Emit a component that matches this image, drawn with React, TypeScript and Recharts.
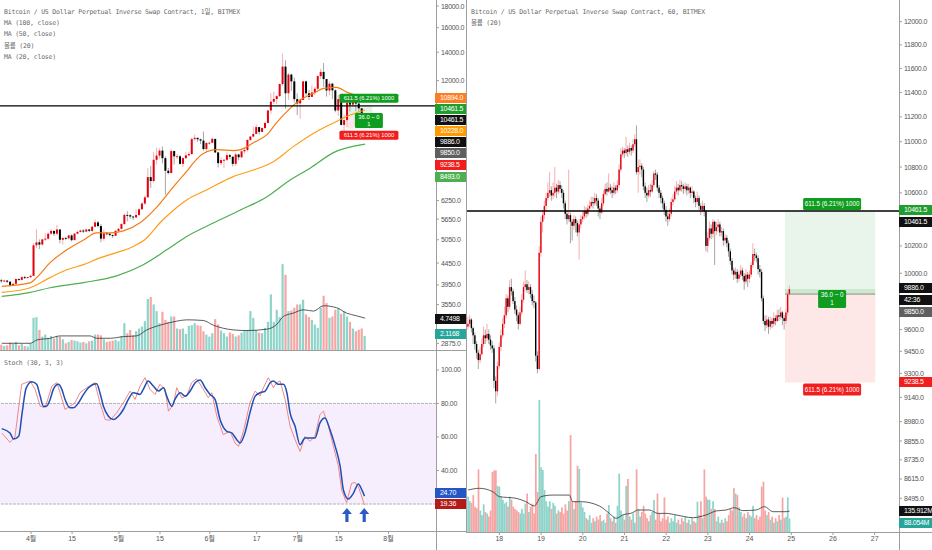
import React from "react";
import {
  ComposedChart,
  Bar,
  Line,
  XAxis,
  YAxis,
  ReferenceLine,
  ReferenceArea,
  ReferenceDot,
} from "recharts";

// ---------- daily chart (left), day 0 = Mar 22 ----------
const dailyFirstOpen = 4050;
const dailyClose = [
  4030, 4045, 4020, 3950, 3975, 4080, 4060, 4120, 4110, 4120,
  4150, 4900, 4980, 4920, 5060, 5080, 5220, 5300, 5220, 5340,
  5050, 5100, 5090, 5170, 5040, 5220, 5270, 5310, 5280, 5340,
  5300, 5420, 5550, 5440, 5080, 5230, 5220, 5180, 5160, 5300,
  5360, 5500, 5780, 5770, 5730, 5700, 5780, 5960, 6150, 6360,
  7100, 6950, 7800, 7980, 8200, 7870, 7350, 7260, 8180, 7950,
  7950, 7630, 7870, 7990, 8050, 8730, 8790, 8720, 8660, 8270,
  8550, 8560, 8740, 8120, 7660, 7790, 7800, 8000, 7930, 7630,
  8030, 7910, 8170, 8230, 8690, 8850, 8980, 9320, 9080, 9270,
  9530, 10200, 10700, 10860, 11030, 11780, 12950, 11200, 12400, 11950,
  10850, 10600, 10800, 11950, 11200, 10980, 11250, 11480, 12300, 12580,
  12100, 11370, 11800, 11380, 10200, 10850, 9430, 9680, 10640, 10530,
  10760, 10590, 10320, 9850, 9886,
];
const dailyHigh = [
  4080, 4060, 4050, 4030, 3990, 4090, 4090, 4140, 4150, 4130,
  4180, 4960, 5350, 5060, 5080, 5230, 5250, 5350, 5300, 5470,
  5350, 5110, 5130, 5190, 5200, 5240, 5300, 5340, 5350, 5360,
  5350, 5460, 5640, 5600, 5500, 5340, 5260, 5240, 5200, 5330,
  5380, 5530, 5830, 5900, 5800, 5750, 5960, 6000, 6190, 6420,
  7450, 7550, 8150, 8330, 8300, 8380, 7950, 7460, 8260, 8200,
  8050, 8000, 7920, 8150, 8150, 8800, 8950, 8800, 8750, 9100,
  8580, 8620, 8820, 8740, 8130, 7900, 7850, 8120, 8050, 7960,
  8100, 8050, 8220, 8330, 8720, 8880, 9350, 9450, 9330, 9300,
  9600, 10230, 11200, 11300, 11100, 11800, 13900, 13400, 12500, 12450,
  12200, 11200, 10900, 11980, 12000, 11400, 11700, 11600, 12350, 12800,
  13200, 12100, 11950, 11850, 11450, 11100, 11000, 9980, 10780, 10780,
  11100, 10800, 10650, 10320, 9950,
];
const dailyLow = [
  4000, 4010, 3990, 3920, 3930, 3960, 4040, 4050, 4080, 4090,
  4100, 4140, 4830, 4800, 4900, 5020, 5050, 5190, 5150, 5180,
  4950, 4920, 5040, 5060, 5000, 5040, 5210, 5260, 5240, 5270,
  5260, 5260, 5400, 5400, 4980, 5020, 5170, 5150, 5100, 5150,
  5280, 5340, 5480, 5580, 5660, 5620, 5700, 5740, 5950, 6100,
  6350, 6700, 6900, 7600, 7850, 7650, 6450, 7200, 7250, 7600,
  7850, 7600, 7500, 7830, 7950, 8000, 8650, 8600, 8500, 8200,
  8080, 8470, 8540, 8090, 7480, 7580, 7450, 7750, 7830, 7520,
  7540, 7780, 7860, 8060, 8160, 8640, 8830, 8970, 8950, 9050,
  9240, 9520, 10000, 10550, 10550, 10980, 11650, 10300, 10800, 11350,
  10650, 9950, 9750, 10800, 11050, 10800, 10980, 11100, 11400, 12100,
  11600, 11000, 11100, 10850, 10100, 9900, 9400, 9100, 9300, 10150,
  10400, 10150, 10100, 9800, 9550,
];
const dailyVolume = [
  0.8, 0.6, 0.7, 1.1, 0.9, 1.2, 0.7, 0.9, 0.6, 0.5,
  1.0, 4.8, 4.9, 3.0, 2.0, 2.3, 1.8, 2.1, 1.7, 2.1,
  2.0, 1.6, 1.0, 1.2, 1.5, 1.4, 1.3, 1.1, 1.2, 1.0,
  1.3, 1.4, 2.3, 2.3, 2.2, 1.6, 1.2, 1.3, 1.4, 1.5,
  1.3, 2.1, 4.0, 2.5, 3.0, 2.2, 2.8, 3.2, 3.5, 4.3,
  7.6, 7.9, 6.8, 5.8, 4.0, 5.7, 4.5, 4.2, 5.0, 5.0,
  3.2, 3.1, 3.2, 2.4, 3.6, 3.7, 4.0, 3.7, 3.6, 2.8,
  2.3, 2.0, 2.5, 4.6, 3.8, 2.9, 2.5, 2.0, 2.6, 2.4,
  2.0, 2.2, 2.6, 2.9, 3.0, 5.8, 4.8, 3.0, 2.6, 2.5,
  3.3, 4.2, 8.3, 4.2, 6.0, 4.9, 12.8, 11.2, 5.8, 5.9,
  6.3, 6.8, 6.8, 7.5, 5.3, 4.9, 4.5, 3.8, 3.3, 6.3,
  8.1, 7.0, 4.8, 5.0, 6.0, 6.2, 5.4, 5.8, 5.0, 4.2,
  3.2, 2.8, 3.0, 3.2, 2.1,
];

// moving averages: [day, value]
const ma20Daily = [
  [0, 3920], [9.7, 3995], [11.9, 4110], [16.5, 4460], [22.2, 4780], [27.9, 5045],
  [32.4, 5240], [36.9, 5240], [41.5, 5300], [47.2, 5540], [52.9, 6030], [56.3, 6440],
  [59.7, 6880], [63.1, 7320], [65.4, 7670], [68.8, 8070], [73.4, 8240], [79.1, 8200],
  [82.5, 8290], [85.9, 8560], [90.4, 8930], [93.8, 9550], [97.3, 10140], [101.8, 10800],
  [106.4, 11200], [109.8, 11500], [114.3, 11560], [117.7, 11270], [124, 10894],
];
const ma50Daily = [
  [0, 3795], [9.7, 3890], [16.5, 4110], [22.2, 4290], [27.9, 4410], [33.5, 4575],
  [39.2, 4710], [44.9, 4870], [49.5, 5100], [54, 5540], [58.6, 5930], [63.1, 6270],
  [69.9, 6620], [79, 7120], [85.9, 7380], [92.7, 7720], [99.5, 8380], [107.5, 9100],
  [113.2, 9530], [118.9, 9950], [124, 10228],
];
const ma100Daily = [
  [0, 3710], [9.7, 3795], [16.5, 3890], [27.9, 4000], [39.2, 4150], [48.3, 4410],
  [56.3, 4780], [63.1, 5140], [72.2, 5530], [81.3, 5930], [90.4, 6370], [98.4, 6990],
  [105.2, 7450], [113.2, 8110], [124, 8493],
];
const volMaDaily = [
  [0, 1.0], [9.7, 1.0], [12, 1.5], [16.5, 1.75], [19.9, 2.1], [30.1, 2.1], [32.4, 1.75],
  [37, 1.75], [41.5, 2.0], [46, 2.1], [49.5, 3.0], [54, 3.7], [59.7, 4.3], [63.1, 4.5],
  [68.8, 4.4], [72.2, 3.7], [79, 3.0], [83.6, 2.9], [90.4, 3.1], [93.8, 3.8], [96.1, 5.0],
  [99.5, 5.5], [103, 6.0], [106.4, 5.8], [109.8, 6.6], [114.3, 6.3], [117.7, 5.5],
  [121.1, 5.1], [124, 4.75],
];

// stochastic (30, 3, 3): [day, value]
const stochK = [
  [0, 62.4], [2.8, 56.8], [4.5, 60], [6.8, 91.4], [9.7, 93.4], [11.4, 88.4], [13.1, 78.4],
  [14.8, 77.4], [17.1, 90.4], [18.8, 92.4], [19.9, 86.4], [21.6, 76.4], [23.3, 78.4],
  [25, 80.4], [26.7, 86.4], [29, 89.4], [31.8, 92.4], [33.5, 80.4], [35.3, 70.4], [37, 70],
  [39.2, 74.4], [41.5, 80.4], [43.8, 87.4], [45.5, 82.4], [47.2, 90.4], [48.9, 95.4],
  [50.6, 88.4], [52.3, 85.4], [54, 91.4], [55.7, 88.4], [56.9, 75.4], [58.6, 79.4],
  [59.7, 89.4], [61.4, 83.4], [63.1, 84.4], [64.8, 92.4], [66.5, 94.8], [68.8, 88.4],
  [70.5, 83.4], [71.7, 86.4], [73.4, 72.4], [75.6, 61.4], [77.9, 63.4], [79.6, 56.4],
  [80.8, 54.4], [82.5, 63.4], [84.7, 80.4], [86.5, 87.4], [88.2, 84.4], [89.3, 89.4],
  [91, 95.4], [92.7, 89.4], [93.8, 92.4], [95, 93.4], [96.7, 82.4], [98.4, 66.4],
  [100.1, 58.4], [101.8, 51.4], [103.5, 60.4], [105.2, 57.4], [106.9, 60.4], [108.6, 73.4],
  [109.8, 75.4], [111.5, 66.4], [113.2, 54.4], [114.9, 42.4], [116, 28.4], [117.7, 20.8],
  [119.4, 32.4], [120.6, 32.8], [121.7, 30.4], [123.8, 19.36],
];
const stochD = [
  [0, 65], [2.8, 62.4], [4, 58.8], [5.8, 60.5], [7, 75], [8.3, 89], [10.2, 93], [11.9, 91.4],
  [13.1, 84.4], [14.2, 78.4], [15.3, 78.4], [16.5, 82.4], [17.6, 88.4], [19.3, 91.4],
  [20.5, 88.4], [21.6, 82.4], [23.3, 77.4], [24.4, 77.4], [26.2, 80.4], [27.9, 85.4],
  [29.6, 89.4], [32.4, 91.8], [33.5, 86.4], [34.7, 78.4], [36.4, 72.4], [38.1, 70.4],
  [39.8, 72.4], [41.5, 76.4], [43.2, 82.4], [44.9, 86.4], [47.2, 85.4], [48.3, 88.4],
  [50, 93.4], [51.7, 90.4], [53.5, 87.4], [55.2, 89.4], [56.3, 84.4], [58, 78.4],
  [59.1, 82.4], [60.9, 86.4], [62.6, 84.4], [64.3, 87.4], [66, 92.4], [67.7, 94],
  [69.4, 89.4], [71.1, 85.4], [72.8, 82.4], [74.5, 70.4], [76.8, 63.4], [78.5, 62.4],
  [80.2, 58.4], [81.3, 56.4], [83, 62.4], [84.7, 74.4], [86.5, 84.4], [88.2, 86.4],
  [89.9, 87.4], [91.6, 92.4], [92.7, 93.4], [94.4, 91.4], [96.1, 91.4], [97.3, 86.4],
  [98.4, 74.4], [100.1, 66.4], [101.8, 55.4], [103.5, 59.4], [105.2, 59.4], [106.9, 59.4],
  [108.6, 68.4], [110.3, 71.4], [112, 64.4], [113.8, 54.4], [115.5, 42.4], [116.6, 28.4],
  [118.3, 23], [120, 26.4], [121.7, 32], [122.9, 28.4], [123.8, 24.7],
];
const stochArrowDays = [117.8, 123.7];

const dailyTickDays = [10, 24, 40, 54, 71, 87, 101, 115, 132];
const dailyTickLabels = ["4월", "15", "5월", "15", "6월", "17", "7월", "15", "8월"];
const leftPriceTicks = [18000, 16000, 14000, 12000, 6250, 5650, 5050, 4450, 3950, 3550, 2875];
const stochTicks = [100, 80, 60, 40];

// ---------- hourly chart (right), hour 0 = Jul 18 00:00 ----------
const hourStart = -18;
const hourlyFirstOpen = 9620;
const hourlyClose = [
  9640, 9670, 9610, 9560, 9500, 9440, 9390, 9430, 9500, 9560,
  9540, 9570, 9530, 9490, 9470, 9250, 9180, 9350, 9480, 9560,
  9640, 9700, 9820, 9760, 9900, 9870, 9800, 9740, 9700, 9640,
  9720, 9810, 9900, 9920, 9880, 9900, 9850, 9800, 9790, 9420,
  9330, 10150, 10380, 10430, 10500, 10560, 10600, 10620, 10580, 10600,
  10640, 10610, 10660, 10630, 10600, 10520, 10440, 10400, 10430, 10380,
  10350, 10400, 10370, 10300, 10360, 10400, 10420, 10460, 10440, 10480,
  10500, 10530, 10520, 10560, 10540, 10480, 10450, 10520, 10590, 10630,
  10610, 10640, 10620, 10600, 10640, 10620, 10660, 10780, 10900, 10930,
  10910, 10940, 10920, 10950, 10930, 10980, 11020, 10760, 10800, 10810,
  10780, 10650, 10600, 10580, 10620, 10610, 10660, 10750, 10740, 10640,
  10600, 10560, 10520, 10470, 10420, 10400, 10440, 10530, 10550, 10610,
  10640, 10620, 10660, 10650, 10630, 10650, 10620, 10640, 10600, 10610,
  10560, 10530, 10560, 10500, 10470, 10500, 10460, 10200, 10260, 10330,
  10290, 10380, 10310, 10340, 10360, 10300, 10310, 10240, 10260, 10220,
  10160, 10090, 10020, 9990, 10010, 9960, 9990, 10020, 9980, 9940,
  9990, 9960, 9990, 10060, 10140, 10130, 10110, 10030, 10010, 9820,
  9660, 9630, 9670, 9620, 9660, 9640, 9680, 9660, 9700, 9690,
  9720, 9680, 9660, 9720, 9850, 9886,
];
const hourlyHigh = [
  9690, 9700, 9680, 9620, 9580, 9520, 9460, 9480, 9540, 9620,
  9600, 9640, 9600, 9560, 9520, 9490, 9280, 9380, 9510, 9600,
  9680, 9760, 9850, 9840, 9950, 9960, 9890, 9830, 9770, 9720,
  9760, 9850, 9940, 10020, 9950, 9940, 9920, 9880, 9840, 9800,
  9450, 10200, 10420, 10470, 10540, 10600, 10680, 10760, 10650, 10680,
  10800, 10670, 10700, 10690, 10660, 10620, 10540, 10470, 10780, 10450,
  10400, 10430, 10420, 10390, 10400, 10430, 10460, 10500, 10490, 10510,
  10540, 10570, 10570, 10600, 10590, 10560, 10500, 10560, 10620, 10670,
  10680, 10750, 10670, 10650, 10680, 10660, 10700, 10820, 10950, 10960,
  10950, 11040, 10970, 10990, 10970, 11020, 11060, 11130, 10860, 10860,
  10830, 10800, 10680, 10640, 10660, 10670, 10700, 10770, 10780, 10760,
  10660, 10620, 10580, 10540, 10500, 10460, 10480, 10560, 10590, 10650,
  10690, 10670, 10700, 10690, 10670, 10680, 10670, 10670, 10650, 10650,
  10620, 10580, 10610, 10580, 10520, 10540, 10520, 10470, 10300, 10380,
  10360, 10400, 10390, 10380, 10400, 10380, 10340, 10330, 10290, 10280,
  10240, 10180, 10110, 10040, 10040, 10030, 10020, 10060, 10040, 10000,
  10030, 10010, 10020, 10080, 10220, 10180, 10150, 10130, 10060, 10030,
  9840, 9700, 9700, 9690, 9690, 9680, 9720, 9700, 9740, 9740,
  9760, 9730, 9700, 9740, 9870, 9910,
];
const hourlyLow = [
  9600, 9620, 9580, 9500, 9460, 9400, 9330, 9370, 9420, 9480,
  9500, 9520, 9500, 9460, 9440, 9200, 9100, 9150, 9330, 9450,
  9540, 9610, 9680, 9720, 9740, 9840, 9780, 9710, 9660, 9600,
  9630, 9700, 9790, 9870, 9860, 9850, 9820, 9770, 9750, 9380,
  9300, 9320, 10120, 10300, 10400, 10460, 10540, 10570, 10540, 10550,
  10570, 10560, 10590, 10600, 10560, 10480, 10400, 10360, 10380, 10220,
  10240, 10320, 10300, 10270, 10100, 10330, 10380, 10400, 10410, 10420,
  10460, 10490, 10480, 10500, 10500, 10420, 10400, 10440, 10500, 10580,
  10580, 10600, 10590, 10560, 10580, 10590, 10600, 10640, 10760, 10880,
  10870, 10890, 10880, 10900, 10890, 10910, 10960, 10740, 10600, 10740,
  10720, 10620, 10560, 10530, 10560, 10570, 10600, 10640, 10700, 10610,
  10560, 10520, 10480, 10430, 10380, 10350, 10380, 10420, 10500, 10540,
  10590, 10580, 10610, 10610, 10590, 10600, 10580, 10590, 10560, 10570,
  10520, 10490, 10510, 10470, 10430, 10450, 10420, 10160, 10150, 10240,
  10250, 10260, 10060, 10280, 10300, 10270, 10270, 10200, 10210, 10190,
  10120, 10060, 9990, 9950, 9960, 9930, 9940, 9970, 9950, 9880,
  9920, 9900, 9930, 9970, 10040, 10090, 10080, 9990, 9970, 9800,
  9640, 9590, 9610, 9570, 9600, 9610, 9620, 9630, 9650, 9660,
  9670, 9630, 9600, 9640, 9700, 9840,
];
const hourlyVolume = [
  230, 200, 190, 240, 165, 155, 407, 140, 110, 180,
  130, 120, 100, 140, 390, 400, 400, 300, 295, 230,
  210, 185, 195, 165, 230, 210, 165, 150, 140, 130,
  120, 150, 120, 185, 250, 130, 165, 185, 120, 507,
  260, 858, 420, 403, 273, 200, 165, 200, 150, 190,
  170, 120, 140, 130, 160, 120, 180, 140, 200, 630,
  200, 150, 200, 430, 410, 190, 160, 130, 90, 80,
  110, 60, 90, 70, 100, 80, 110, 70, 80, 60,
  120, 175, 90, 70, 100, 60, 170, 380, 140, 110,
  80, 300, 345, 100, 80, 120, 60, 407, 150, 100,
  130, 170, 120, 90, 70, 110, 130, 208, 80, 250,
  120, 70, 90, 225, 80, 100, 60, 90, 70, 110,
  60, 80, 50, 90, 70, 100, 60, 80, 50, 90,
  70, 60, 197, 110, 200, 90, 407, 230, 210, 210,
  150, 200, 150, 70, 100, 60, 80, 60, 90, 70,
  110, 150, 140, 285, 250, 240, 160, 130, 100, 120,
  90, 130, 110, 100, 170, 90, 110, 80, 100, 295,
  327, 140, 110, 130, 80, 100, 60, 90, 70, 110,
  80, 223, 90, 100, 225, 88,
];
const volMaHourly = [
  [-18, 273], [-11.5, 284], [-3.8, 262], [0, 230], [9.6, 219], [15.3, 197], [20.1, 169],
  [24, 230], [30.7, 240], [40.3, 240], [42.2, 197], [47, 197], [57.6, 169], [63.3, 121],
  [67.2, 89], [71, 111], [76.8, 126], [79.6, 143], [86.4, 143], [91.2, 121], [96, 121],
  [101.7, 111], [111.3, 93], [119, 111], [124.8, 137], [130.5, 143], [135.3, 158],
  [140.1, 139], [147.8, 143], [152.6, 165], [157.4, 132], [165, 132], [167, 136],
];

const hourTickHours = [0, 24, 48, 72, 96, 120, 144, 168, 192, 216];
const hourTickLabels = ["18", "19", "20", "21", "22", "23", "24", "25", "26", "27"];
const rightPriceTicks = [
  12000, 11800, 11600, 11400, 11200, 11000, 10800, 10600, 10200, 10000,
  9600, 9450, 9300, 9140, 8980, 8855, 8735, 8615, 8495,
];

// long position tool
const targetPrice = 10461.5;
const entryPrice = 9850;
const stopPrice = 9238.5;
const lastPrice = 9886;
const targetLabel = "611.5 (6.21%) 1000";
const entryLabel = ["36.0 ~ 0", "1"];

// ---------- styles ----------
const UP = "#e3000f";
const DOWN = "#000000";
const WICK_UP = "#f29a9a";
const WICK_DOWN = "#8e8e8e";
const VOL_UP = "#8fd4ca";
const VOL_DOWN = "#f5a6a4";
const AXIS = "#9e9e9e";
const TEXT = "#555";
const MONO = "'DejaVu Sans Mono', 'Noto Sans CJK KR', monospace";
const SANS = "'Liberation Sans', 'Noto Sans CJK KR', sans-serif";

const dailyRows = dailyClose.map((c, i) => {
  const o = i === 0 ? dailyFirstOpen : dailyClose[i - 1];
  return { d: i, o, c, h: dailyHigh[i], l: dailyLow[i], range: [dailyLow[i], dailyHigh[i]], vol: dailyVolume[i], up: c >= o };
});
const hourlyRows = hourlyClose.map((c, i) => {
  const o = i === 0 ? hourlyFirstOpen : hourlyClose[i - 1];
  return { d: hourStart + i, o, c, h: hourlyHigh[i], l: hourlyLow[i], range: [hourlyLow[i], hourlyHigh[i]], vol: hourlyVolume[i], up: c >= o };
});
const pts = (arr: number[][]) => arr.map(([d, v]) => ({ d, v }));

const candleShape = (bodyW: number) => (p: any) => {
  const { x, y, width, height, payload } = p;
  if (!payload || x == null) return <g />;
  const top = Math.min(y, y + height);
  const bot = Math.max(y, y + height);
  const lh = Math.log(payload.h);
  const span = lh - Math.log(payload.l) || 1;
  const py = (v: number) => top + ((lh - Math.log(v)) / span) * (bot - top);
  const cx = x + width / 2;
  const up = payload.c >= payload.o;
  const yo = py(payload.o);
  const yc = py(payload.c);
  return (
    <g>
      <line x1={cx} x2={cx} y1={top} y2={bot} stroke={up ? WICK_UP : WICK_DOWN} strokeWidth={0.8} />
      <rect x={cx - bodyW / 2} y={Math.min(yo, yc)} width={bodyW} height={Math.max(Math.abs(yo - yc), 0.9)} fill={up ? UP : DOWN} />
    </g>
  );
};

const volShape = (barW: number) => (p: any) => {
  const { x, y, width, height, payload } = p;
  if (!payload || x == null) return <g />;
  const cx = x + width / 2;
  return <rect x={cx - barW / 2} y={y} width={barW} height={Math.max(height, 0)} fill={payload.up ? VOL_UP : VOL_DOWN} />;
};

const toolTag = (lines: string[], bg: string, w: number, dy: number, lh: number, fs: number) => (p: any) => {
  const { cx, cy } = p;
  const top = cy + dy;
  return (
    <g>
      <rect x={cx - w / 2} y={top} width={w} height={lines.length * lh + 2} rx={1.5} fill={bg} />
      {lines.map((t, i) => (
        <text key={i} x={cx} y={top + 1 + lh * (i + 0.5)} dy="0.35em" textAnchor="middle" fontSize={fs} fontFamily={SANS} fill="#fff">
          {t}
        </text>
      ))}
    </g>
  );
};

const arrowShape = (p: any) => {
  const { cx, cy } = p;
  const d = `M${cx} ${cy - 7} L${cx + 5} ${cy - 1} L${cx + 1.6} ${cy - 1} L${cx + 1.6} ${cy + 7} L${cx - 1.6} ${cy + 7} L${cx - 1.6} ${cy - 1} L${cx - 5} ${cy - 1} Z`;
  return <path d={d} fill="#2c5bc9" />;
};

const leftTags = [
  { text: "10894.0", bg: "#ff7d22", top: 93 },
  { text: "10461.5", bg: "#1f9d2e", top: 104 },
  { text: "10461.5", bg: "#111", top: 115 },
  { text: "10228.0", bg: "#ff9a00", top: 126 },
  { text: "9886.0", bg: "#111", top: 137 },
  { text: "9850.0", bg: "#5f5f5f", top: 148 },
  { text: "9238.5", bg: "#f21d1d", top: 159.5 },
  { text: "8493.0", bg: "#4caf50", top: 172 },
  { text: "4.7498", bg: "#111", top: 314 },
  { text: "2.1168", bg: "#26a69a", top: 329 },
  { text: "24.70", bg: "#2457c5", top: 488 },
  { text: "19.36", bg: "#b31b1b", top: 499 },
];
const rightTags = [
  { text: "10461.5", bg: "#1f9d2e", top: 205 },
  { text: "10461.5", bg: "#111", top: 217 },
  { text: "9886.0", bg: "#111", top: 283 },
  { text: "42:36", bg: "#111", top: 294.5 },
  { text: "9850.0", bg: "#5f5f5f", top: 307 },
  { text: "9238.5", bg: "#f21d1d", top: 377 },
  { text: "135.912M", bg: "#111", top: 506 },
  { text: "88.054M", bg: "#26a69a", top: 518 },
];

const Tag = ({ text, bg, top, left, width }: any) => (
  <div
    style={{
      position: "absolute", left, top, width, height: 10, background: bg, color: "#fff",
      fontFamily: SANS, fontSize: 7, lineHeight: "10px", paddingLeft: 5, boxSizing: "border-box",
      letterSpacing: -0.3, whiteSpace: "nowrap", overflow: "hidden",
    }}
  >
    {text}
  </div>
);

const Legend = ({ lines, left, top }: any) => (
  <div style={{ position: "absolute", left, top, fontFamily: MONO, fontSize: 6.5, lineHeight: "11.2px", color: "#6a6a6a", letterSpacing: -0.2, whiteSpace: "pre" }}>
    {lines.map((t: string, i: number) => <div key={i}>{t}</div>)}
  </div>
);

const hline = (left: number, top: number, width: number) => (
  <div style={{ position: "absolute", left, top, width, height: 1, background: AXIS }} />
);
const vline = (left: number, top: number, height: number) => (
  <div style={{ position: "absolute", left, top, width: 1, height, background: AXIS }} />
);

const yTick = { fontSize: 7, fill: TEXT, fontFamily: SANS, letterSpacing: -0.3 };
const xTick = { fontSize: 7, fill: TEXT, fontFamily: SANS };

export default function App() {
  return (
    <div style={{ position: "absolute", left: 0, top: 0, width: 932, height: 550, background: "#fff", overflow: "hidden" }}>
      {/* left: daily price pane */}
      <div style={{ position: "absolute", left: 0, top: 0 }}>
        <ComposedChart width={466} height={350} data={dailyRows} margin={{ top: 0, right: 0, bottom: 0, left: 0 }}>
          <XAxis xAxisId="p" dataKey="d" type="number" domain={[-0.6, 148.2]} allowDataOverflow hide />
          <XAxis xAxisId="v" dataKey="d" type="number" domain={[-0.6, 148.2]} allowDataOverflow hide />
          <XAxis xAxisId="m" dataKey="d" type="number" domain={[-0.6, 148.2]} allowDataOverflow hide />
          <YAxis
            yAxisId="price" orientation="right" width={30} scale="log" domain={[2773, 18600]} allowDataOverflow
            ticks={leftPriceTicks} interval={0} tick={yTick} tickSize={3} tickMargin={2}
            tickLine={{ stroke: AXIS }} axisLine={false} tickFormatter={(v: number) => v.toFixed(1)}
          />
          <YAxis yAxisId="vol" domain={[0, 52.2]} allowDataOverflow hide />
          <Bar xAxisId="v" yAxisId="vol" dataKey="vol" barSize={2} shape={volShape(2.2)} isAnimationActive={false} />
          <Line xAxisId="m" yAxisId="vol" data={pts(volMaDaily)} dataKey="v" type="monotone" stroke="#333" strokeWidth={0.8} dot={false} activeDot={false} isAnimationActive={false} />
          <ReferenceArea xAxisId="p" yAxisId="price" x1={118} x2={126.5} y1={entryPrice} y2={targetPrice} fill="#4caf50" fillOpacity={0.15} stroke="none" />
          <ReferenceArea xAxisId="p" yAxisId="price" x1={118} x2={126.5} y1={stopPrice} y2={entryPrice} fill="#f44336" fillOpacity={0.12} stroke="none" />
          <Bar xAxisId="p" yAxisId="price" dataKey="range" barSize={2} shape={candleShape(2)} isAnimationActive={false} />
          <Line xAxisId="m" yAxisId="price" data={pts(ma100Daily)} dataKey="v" type="monotone" stroke="#4caf50" strokeWidth={1.2} dot={false} activeDot={false} isAnimationActive={false} />
          <Line xAxisId="m" yAxisId="price" data={pts(ma50Daily)} dataKey="v" type="monotone" stroke="#ff9d1a" strokeWidth={1.2} dot={false} activeDot={false} isAnimationActive={false} />
          <Line xAxisId="m" yAxisId="price" data={pts(ma20Daily)} dataKey="v" type="monotone" stroke="#f57a14" strokeWidth={1.2} dot={false} activeDot={false} isAnimationActive={false} />
          <ReferenceLine xAxisId="p" yAxisId="price" y={targetPrice} stroke="#000" strokeWidth={1.4} />
          <ReferenceDot xAxisId="p" yAxisId="price" x={125.3} y={targetPrice} shape={toolTag([targetLabel], "#0f9d1f", 59, -12, 7, 5.8)} />
          <ReferenceDot xAxisId="p" yAxisId="price" x={125.3} y={entryPrice} shape={toolTag(entryLabel, "#0f9d1f", 28, -4, 6.5, 5.8)} />
          <ReferenceDot xAxisId="p" yAxisId="price" x={125.3} y={stopPrice} shape={toolTag([targetLabel], "#f21d1d", 59, 2, 7, 5.8)} />
        </ComposedChart>
      </div>

      {/* left: stochastic pane */}
      <div style={{ position: "absolute", left: 0, top: 350 }}>
        <ComposedChart width={466} height={200} margin={{ top: 0, right: 0, bottom: 0, left: 0 }}>
          <XAxis
            dataKey="d" type="number" domain={[-0.6, 148.2]} allowDataOverflow height={19}
            ticks={dailyTickDays} interval={0} tick={xTick} tickSize={3} tickMargin={2}
            tickLine={{ stroke: AXIS }} axisLine={false}
            tickFormatter={(v: number) => dailyTickLabels[dailyTickDays.indexOf(v)] ?? ""}
          />
          <YAxis
            orientation="right" width={30} domain={[3.9, 111.9]} allowDataOverflow
            ticks={stochTicks} interval={0} tick={yTick} tickSize={3} tickMargin={2}
            tickLine={{ stroke: AXIS }} axisLine={false} tickFormatter={(v: number) => v.toFixed(2)}
          />
          <ReferenceArea y1={20} y2={80} fill="#f6eefd" fillOpacity={1} stroke="none" />
          <ReferenceLine y={80} stroke="#b5b5b5" strokeDasharray="3 1" />
          <ReferenceLine y={20} stroke="#b5b5b5" strokeDasharray="3 1" />
          <Line data={pts(stochK)} dataKey="v" type="linear" stroke="#ec7b7b" strokeWidth={0.9} dot={false} activeDot={false} isAnimationActive={false} />
          <Line data={pts(stochD)} dataKey="v" type="monotone" stroke="#1f4fb5" strokeWidth={1.5} dot={false} activeDot={false} isAnimationActive={false} />
          {stochArrowDays.map((d) => (
            <ReferenceDot key={d} x={d} y={13.4} shape={arrowShape} />
          ))}
        </ComposedChart>
      </div>

      {/* right: hourly volume (drawn underneath) */}
      <div style={{ position: "absolute", left: 466, top: 0 }}>
        <ComposedChart width={466} height={532} data={hourlyRows} margin={{ top: 0, right: 33, bottom: 0, left: 0 }}>
          <XAxis dataKey="d" type="number" domain={[-19.2, 230]} allowDataOverflow hide />
          <YAxis domain={[0, 3458]} allowDataOverflow hide />
          <Bar dataKey="vol" barSize={1.4} shape={volShape(1.75)} isAnimationActive={false} />
          <Line data={pts(volMaHourly)} dataKey="v" type="monotone" stroke="#333" strokeWidth={0.8} dot={false} activeDot={false} isAnimationActive={false} />
        </ComposedChart>
      </div>

      {/* right: hourly candles */}
      <div style={{ position: "absolute", left: 466, top: 0 }}>
        <ComposedChart width={466} height={550} data={hourlyRows} margin={{ top: 0, right: 0, bottom: 0, left: 0 }}>
          <XAxis
            dataKey="d" type="number" domain={[-19.2, 230]} allowDataOverflow height={18}
            ticks={hourTickHours} interval={0} tick={xTick} tickSize={3} tickMargin={1}
            tickLine={{ stroke: AXIS }} axisLine={false}
            tickFormatter={(v: number) => hourTickLabels[hourTickHours.indexOf(v)] ?? ""}
          />
          <YAxis
            orientation="right" width={33} scale="log" domain={[8290, 12190]} allowDataOverflow
            ticks={rightPriceTicks} interval={0} tick={yTick} tickSize={3} tickMargin={2}
            tickLine={{ stroke: AXIS }} axisLine={false} tickFormatter={(v: number) => v.toFixed(1)}
          />
          <ReferenceArea x1={164.4} x2={216.3} y1={entryPrice} y2={targetPrice} fill="#4caf50" fillOpacity={0.12} stroke="none" />
          <ReferenceArea x1={164.4} x2={216.3} y1={entryPrice} y2={lastPrice} fill="#4caf50" fillOpacity={0.18} stroke="none" />
          <ReferenceArea x1={164.4} x2={216.3} y1={stopPrice} y2={entryPrice} fill="#f44336" fillOpacity={0.12} stroke="none" />
          <ReferenceLine segment={[{ x: 164.4, y: entryPrice }, { x: 216.3, y: entryPrice }]} stroke="#8a8a8a" />
          <Bar dataKey="range" barSize={1.4} shape={candleShape(1.4)} isAnimationActive={false} />
          <ReferenceLine y={targetPrice} stroke="#000" strokeWidth={1.4} />
          <ReferenceDot x={191.5} y={targetPrice} shape={toolTag([targetLabel], "#0f9d1f", 58, -13, 10, 6.3)} />
          <ReferenceDot x={191.5} y={entryPrice} shape={toolTag(entryLabel, "#0f9d1f", 28, -4, 8, 6.3)} />
          <ReferenceDot x={191.5} y={stopPrice} shape={toolTag([targetLabel], "#f21d1d", 58, 1, 10, 6.3)} />
        </ComposedChart>
      </div>

      {/* frame lines */}
      {vline(436, 0, 550)}
      {vline(466, 0, 532)}
      {vline(899, 0, 550)}
      {hline(0, 350, 466)}
      {hline(0, 531, 466)}
      {hline(466, 532, 466)}

      {/* axis tags */}
      {leftTags.map((t, i) => <Tag key={"l" + i} {...t} left={435} width={31} />)}
      {rightTags.map((t, i) => <Tag key={"r" + i} {...t} left={899} width={33} />)}

      {/* legends */}
      <Legend
        left={4}
        top={7}
        lines={[
          "Bitcoin / US Dollar Perpetual Inverse Swap Contract, 1일, BITMEX",
          "MA (100, close)",
          "MA (50, close)",
          "볼륨 (20)",
          "MA (20, close)",
        ]}
      />
      <Legend left={4} top={358} lines={["Stoch (30, 3, 3)"]} />
      <Legend left={471} top={7} lines={["Bitcoin / US Dollar Perpetual Inverse Swap Contract, 60, BITMEX", "볼륨 (20)"]} />
    </div>
  );
}
